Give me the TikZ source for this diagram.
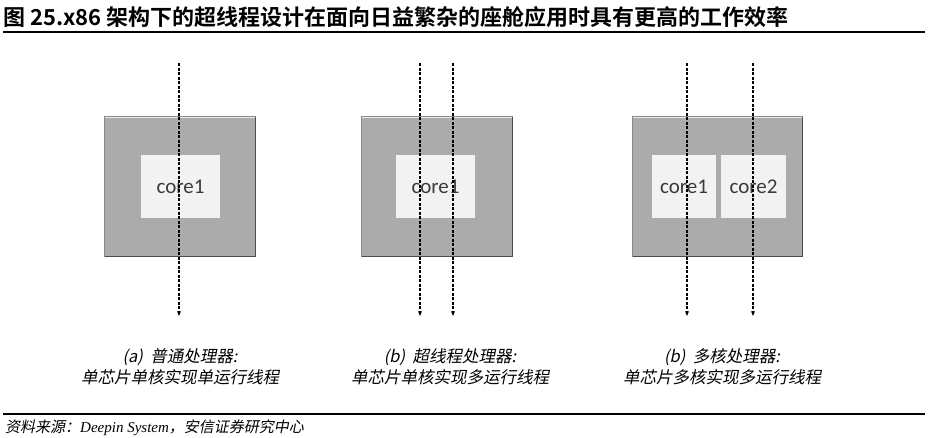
\documentclass[tikz,border=0pt]{standalone}
\usepackage{fontspec}
\setmainfont{Liberation Serif}
\newfontfamily\cjk{Noto Sans CJK SC}
\newfontfamily\cjkb{Noto Sans CJK SC Bold}
\newfontfamily\cjksl[FakeSlant=0.2]{Noto Sans CJK SC}
\newfontfamily\corefont{Carlito}
\usetikzlibrary{arrows.meta}
\definecolor{boxgray}{HTML}{ABABAB}
\definecolor{boxedge}{HTML}{8A8A8A}
\definecolor{corefill}{HTML}{F2F2F2}
\definecolor{coretext}{HTML}{3A3A3A}
\tikzset{
  chip/.style={fill=boxgray, draw=boxedge, line width=1.2pt},
  corebox/.style={fill=corefill, draw=none, inner sep=0pt, font=\corefont\fontsize{21}{24}\selectfont, text=coretext},
  thread/.style={dash pattern=on 3pt off 1.5pt, line width=1.4pt, -{Stealth[length=5pt,width=4pt]}},
  caption/.style={align=center, font=\cjksl\fontsize{16.5}{21}\selectfont, text=black},
  rule/.style={line width=1.3pt, draw=black}
}
\begin{document}
\begin{tikzpicture}[x=1pt,y=-1pt]
\useasboundingbox[fill=white] (0,0) rectangle (928,437);
% title
\node[anchor=west, inner sep=0pt, font=\cjkb\fontsize{22}{26}\selectfont] (title) at (3,17) {图 25.x86 架构下的超线程设计在面向日益繁杂的座舱应用时具有更高的工作效率};
\coordinate (t1) at (3,32); \coordinate (t2) at (925,32);
\draw[rule] (t1) -- (t2);
% chip boxes
\node[chip, minimum width=151pt, minimum height=140pt, inner sep=0pt] (chipA) at (180,186.5) {};
\node[chip, minimum width=151pt, minimum height=140pt, inner sep=0pt] (chipB) at (437,186.5) {};
\node[chip, minimum width=170pt, minimum height=140pt, inner sep=0pt] (chipC) at (717.5,186.5) {};
\foreach \c in {chipA,chipB,chipC}{
  \draw[white!85!gray, line width=1pt] ([shift={(1.5,1.5)}]\c.north west) -- ([shift={(-1.5,1.5)}]\c.north east);
  \draw[gray!60!black, line width=1pt] ([shift={(-0.8,1)}]\c.north east) -- ([shift={(-0.8,-0.8)}]\c.south east) -- ([shift={(1,-0.8)}]\c.south west);
}
% cores
\node[corebox, minimum width=79pt, minimum height=63pt] (coreA) at (180.5,186.5) {core1};
\node[corebox, minimum width=79pt, minimum height=63pt] (coreB) at (435.5,186.5) {core1};
\node[corebox, minimum width=64pt, minimum height=63pt] (coreC1) at (684,186.5) {core1};
\node[corebox, minimum width=65pt, minimum height=63pt] (coreC2) at (753.5,186.5) {core2};
% threads
\coordinate (a1s) at (179,63);  \coordinate (a1e) at (179,316);
\coordinate (b1s) at (420,63);  \coordinate (b1e) at (420,316);
\coordinate (b2s) at (453,63);  \coordinate (b2e) at (453,316);
\coordinate (c1s) at (687,63);  \coordinate (c1e) at (687,316);
\coordinate (c2s) at (753,63);  \coordinate (c2e) at (753,316);
\draw[thread] (a1s) -- (a1e);
\draw[thread] (b1s) -- (b1e);
\draw[thread] (b2s) -- (b2e);
\draw[thread] (c1s) -- (c1e);
\draw[thread] (c2s) -- (c2e);
% captions
\node[caption] (capA) at (180,367) {(a)\ \ 普通处理器:\\单芯片单核实现单运行线程};
\node[caption] (capB) at (450,367) {(b)\ \ 超线程处理器:\\单芯片单核实现多运行线程};
\node[caption] (capC) at (722,367) {(b)\ \ 多核处理器:\\单芯片多核实现多运行线程};
% bottom rule and source
\coordinate (s1) at (3,414); \coordinate (s2) at (925,414);
\draw[rule] (s1) -- (s2);
\node[anchor=west, inner sep=0pt, font=\fontsize{15}{17}\selectfont] (src) at (5,428) {\cjksl 资料来源：\itshape\rmfamily Deepin System\upshape\cjksl ，安信证券研究中心};
\end{tikzpicture}
\end{document}
